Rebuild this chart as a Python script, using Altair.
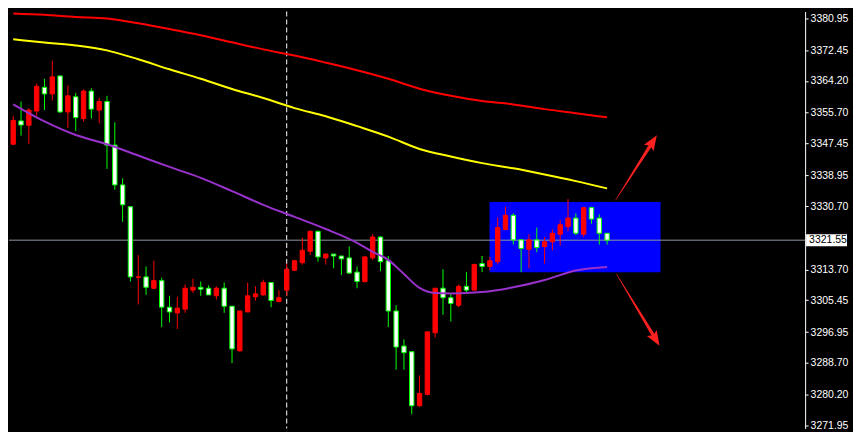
import altair as alt
import pandas as pd

# ---- candle data (index, OHLC) ----
opens = [3347.26, 3353.50, 3352.34, 3356.15, 3362.49, 3360.72, 3365.54, 3355.89, 3359.95, 3354.12,
         3361.48, 3356.40, 3358.69, 3347.01, 3336.35, 3330.51, 3311.60, 3311.72, 3308.68, 3310.71,
         3303.60, 3302.08, 3303.09, 3308.17, 3308.93, 3308.68, 3306.65, 3308.68, 3303.86, 3291.93,
         3302.33, 3306.39, 3306.90, 3310.20, 3305.12, 3308.17, 3313.50, 3315.53, 3318.58, 3323.91,
         3316.80, 3317.82, 3317.31, 3316.80, 3312.99, 3310.46, 3316.80, 3322.39, 3316.04, 3302.59,
         3293.19, 3291.67, 3277.20, 3280.25, 3296.75, 3308.68, 3306.14, 3304.11, 3309.19, 3308.17,
         3315.28, 3314.52, 3315.79, 3324.42, 3328.22, 3321.62, 3319.09, 3321.62, 3319.85, 3321.12,
         3323.15, 3325.18, 3327.46, 3323.15, 3330.26, 3327.46, 3323.40]
highs = [3354.88, 3358.69, 3356.91, 3363.51, 3364.78, 3369.60, 3365.54, 3363.00, 3360.97, 3361.99,
         3362.24, 3359.70, 3360.21, 3353.10, 3338.12, 3330.51, 3317.56, 3314.52, 3316.04, 3311.47,
         3306.65, 3306.39, 3309.69, 3311.22, 3310.46, 3309.44, 3309.19, 3310.20, 3303.86, 3302.59,
         3310.20, 3309.19, 3310.96, 3310.20, 3308.17, 3315.28, 3316.29, 3322.13, 3324.16, 3324.16,
         3318.07, 3317.82, 3317.31, 3319.85, 3314.52, 3317.31, 3323.15, 3322.64, 3317.31, 3304.11,
         3294.97, 3291.67, 3285.33, 3297.00, 3308.68, 3313.76, 3307.16, 3309.69, 3312.99, 3315.28,
         3317.31, 3317.06, 3327.72, 3330.51, 3328.73, 3321.88, 3323.15, 3324.92, 3322.39, 3324.42,
         3326.96, 3332.54, 3328.73, 3330.51, 3330.51, 3328.48, 3323.40]
lows = [3347.00, 3349.55, 3347.26, 3354.88, 3356.40, 3358.94, 3355.64, 3351.58, 3350.82, 3353.35,
        3354.12, 3352.85, 3340.66, 3335.08, 3326.45, 3310.46, 3304.36, 3306.90, 3308.42, 3298.27,
        3299.54, 3297.76, 3302.08, 3307.41, 3306.65, 3306.90, 3305.63, 3302.08, 3288.62, 3291.67,
        3302.33, 3305.38, 3306.65, 3303.60, 3304.87, 3306.65, 3313.25, 3315.02, 3317.56, 3315.79,
        3315.02, 3314.01, 3312.23, 3312.49, 3308.68, 3310.20, 3316.29, 3313.25, 3298.27, 3286.85,
        3286.85, 3274.92, 3276.95, 3279.99, 3295.48, 3301.57, 3299.79, 3303.60, 3307.41, 3308.17,
        3312.99, 3313.50, 3315.02, 3324.16, 3320.36, 3312.99, 3314.01, 3318.32, 3315.28, 3318.83,
        3320.10, 3323.91, 3322.89, 3322.39, 3325.94, 3320.36, 3320.36]
closes = [3353.61, 3352.40, 3356.40, 3362.75, 3360.72, 3365.29, 3355.89, 3360.21, 3354.37, 3361.48,
          3356.65, 3358.69, 3347.01, 3336.35, 3331.02, 3311.72, 3311.72, 3308.93, 3310.71, 3303.60,
          3302.33, 3303.35, 3308.68, 3308.93, 3308.42, 3306.90, 3308.68, 3303.86, 3292.43, 3302.59,
          3306.65, 3307.16, 3310.20, 3305.38, 3306.14, 3313.76, 3316.04, 3318.83, 3323.91, 3317.06,
          3317.82, 3317.31, 3316.55, 3312.74, 3310.46, 3317.06, 3322.39, 3315.79, 3302.59, 3292.94,
          3291.42, 3277.20, 3280.50, 3297.00, 3308.68, 3306.14, 3304.62, 3309.19, 3308.17, 3315.02,
          3314.52, 3316.04, 3324.92, 3328.22, 3321.62, 3319.34, 3321.62, 3319.59, 3321.12, 3323.40,
          3325.69, 3327.46, 3323.40, 3330.26, 3327.21, 3323.40, 3321.55]

# ---- moving averages ----
ma_idx = [0, 4, 8, 12, 16, 20, 24, 28, 32, 36, 40, 44, 48, 52, 56, 60, 64, 68, 72, 76]
ma_red = [3382.29, 3381.91, 3381.35, 3380.95, 3379.63, 3378.10, 3376.45, 3374.55, 3372.65, 3371.00,
          3369.09, 3367.06, 3364.78, 3362.11, 3360.21, 3358.81, 3357.92, 3356.65, 3355.56, 3354.45]
ma_yellow = [3375.36, 3374.52, 3373.71, 3372.39, 3370.01, 3367.32, 3364.78, 3362.06, 3359.62, 3356.91,
             3354.75, 3352.09, 3349.29, 3345.99, 3343.96, 3342.19, 3340.79, 3339.14, 3337.36, 3335.41]
ma_purple_idx = [0, 4, 8, 12, 16, 20, 24, 28, 32, 36, 40, 44, 46, 48, 50, 52, 54, 56, 60, 64, 68, 72, 76]
ma_purple = [3357.92, 3353.35, 3349.72, 3347.26, 3344.22, 3341.17, 3338.25, 3334.70, 3331.02, 3327.79,
             3324.54, 3320.86, 3318.45, 3316.29, 3312.49, 3308.76, 3307.41, 3307.28, 3307.66, 3308.93,
             3310.89, 3313.42, 3314.34]

# ---- axis / annotations ----
tick_values = [3380.95, 3372.45, 3364.20, 3355.70, 3347.45, 3338.95, 3330.70,
               3313.70, 3305.45, 3296.95, 3288.70, 3280.20, 3271.95]
last_price = 3321.55
y_domain = [3271.11, 3382.80]
x_domain = [-0.54, 101.34]
vline_idx = 35
box_x = [60.96, 82.84]
box_y = [3312.99, 3331.78]
arrow_x = [77.09, 81.76, 77.21, 82.13]
arrow_y = [3332.29, 3347.65, 3312.49, 3295.30]
arrow_w = [0.5, 3.5, 0.5, 3.5]
arrow_g = ["up", "up", "down", "down"]
head_x = [81.76, 82.13]
head_y = [3347.65, 3295.30]
head_angle = [32.5, 148.8]

W, H = 798, 418
xs = alt.Scale(domain=x_domain, nice=False, zero=False)
ys = alt.Scale(domain=y_domain, nice=False, zero=False)
yax = alt.Axis(
    orient="right", values=tick_values, format=".2f", grid=False, title=None,
    labelColor="#ffffff", domainColor="#ffffff", tickColor="#ffffff", tickSize=3,
    labelFont="Liberation Sans", labelFontSize=10.5, labelPadding=2, labelOverlap=False)


def Y(field):
    return alt.Y(field, scale=ys, axis=yax)


def X(field):
    return alt.X(field, scale=xs, axis=None)


candles = pd.DataFrame({"i": list(range(len(opens))), "open": opens, "high": highs,
                        "low": lows, "close": closes})
candles["up"] = candles["close"] >= candles["open"]

base = alt.Chart(candles)

wicks = base.mark_rule(strokeWidth=1).encode(
    x=X("i:Q"), y=Y("low:Q"), y2="high:Q",
    color=alt.condition("datum.up", alt.value("#ff0000"), alt.value("#00ff00")),
)

bodies = base.transform_calculate(xl="datum.i - 0.28", xr="datum.i + 0.28").mark_rect(strokeWidth=1).encode(
    x=X("xl:Q"), x2="xr:Q", y=Y("open:Q"), y2="close:Q",
    fill=alt.condition("datum.up", alt.value("#ff0000"), alt.value("#ffffff")),
    stroke=alt.condition("datum.up", alt.value("#ff0000"), alt.value("#00ff00")),
)

ma_df = pd.DataFrame({"i": ma_idx, "red": ma_red, "yellow": ma_yellow})
pur_df = pd.DataFrame({"i": ma_purple_idx, "v": ma_purple})

red_line = alt.Chart(ma_df).mark_line(color="#ff0000", strokeWidth=2, interpolate="monotone").encode(
    x=X("i:Q"), y=Y("red:Q"))
yellow_line = alt.Chart(ma_df).mark_line(color="#ffff00", strokeWidth=2, interpolate="monotone").encode(
    x=X("i:Q"), y=Y("yellow:Q"))
purple_line = alt.Chart(pur_df).mark_line(color="#9932cc", strokeWidth=2, interpolate="monotone").encode(
    x=X("i:Q"), y=Y("v:Q"))

box = alt.Chart(pd.DataFrame({"x1": [box_x[0]], "x2": [box_x[1]], "y1": [box_y[0]], "y2": [box_y[1]]})).mark_rect(
    color="#0000ff").encode(x=X("x1:Q"), x2="x2:Q", y=Y("y1:Q"), y2="y2:Q")

vline = alt.Chart(pd.DataFrame({"i": [vline_idx]})).mark_rule(
    color="#ffffff", strokeWidth=1, strokeDash=[5, 3]).encode(x=X("i:Q"))

price_df = pd.DataFrame({"p": [last_price], "t": [f"{last_price:.2f}"]})
hline = alt.Chart(price_df).mark_rule(color="#8c96a0", strokeWidth=1).encode(y=Y("p:Q"))
label_box = alt.Chart(price_df).mark_rule(color="#ffffff", strokeWidth=12).encode(
    y=Y("p:Q"), x=alt.value(W + 1), x2=alt.value(W + 42))
label_txt = alt.Chart(price_df).mark_text(
    align="left", baseline="middle", color="#000000", font="Liberation Sans", fontSize=10.5).encode(
    y=Y("p:Q"), x=alt.value(W + 4), text="t:N")

arrows_df = pd.DataFrame({"x": arrow_x, "y": arrow_y, "w": arrow_w, "g": arrow_g,
                          "o": [0, 1, 0, 1]})
shafts = alt.Chart(arrows_df).mark_trail(color="#ff2020").encode(
    x=X("x:Q"), y=Y("y:Q"),
    size=alt.Size("w:Q", scale=None, legend=None), detail="g:N", order="o:Q")

heads_df = pd.DataFrame({"x": head_x, "y": head_y, "a": head_angle})
heads = alt.Chart(heads_df).mark_point(
    shape="M0,-1L0.65,0.7L0,0.4L-0.65,0.7Z", filled=True, size=310, color="#ff2020", opacity=1).encode(
    x=X("x:Q"), y=Y("y:Q"), angle=alt.Angle("a:Q", scale=None))

chart = alt.layer(
    box, vline, hline, red_line, yellow_line, wicks, bodies, purple_line,
    shafts, heads, label_box, label_txt
).properties(
    width=W, height=H, background="#000000", padding=0
).configure_view(stroke=None)

chart.save("out.html", embed_options={"renderer": "svg", "actions": False})
